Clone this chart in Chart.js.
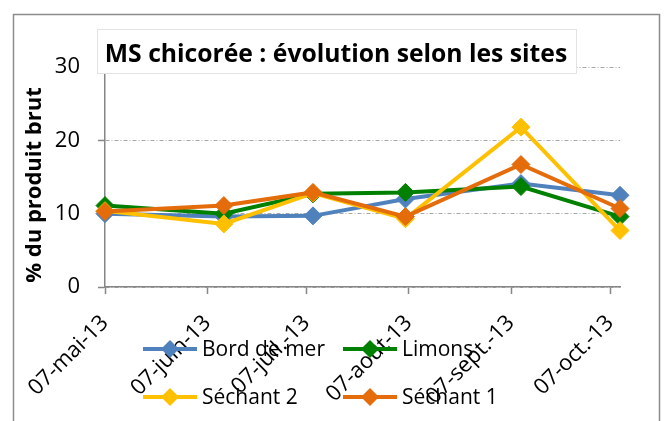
<!DOCTYPE html>
<html>
<head>
<meta charset="utf-8">
<script src="https://cdn.jsdelivr.net/npm/chart.js@4"></script>
<style>
    html, body { margin: 0; padding: 0; background: #fff; }
</style>
</head>
<body>
<canvas id="ms-grafica" width="665" height="421"></canvas>
<script>
const titre = 'MS chicorée : évolution selon les sites';
const titreAxeY = '% du produit brut';

// dates des prélèvements et valeurs (% du produit brut)
const datesMesures = ['2013-05-07', '2013-06-12', '2013-07-09', '2013-08-06', '2013-09-10', '2013-10-10'];
const bordDeMer = [10.0, 9.6, 9.7, 12.0, 14.1, 12.5];
const limons = [11.1, 10.0, 12.7, 12.9, 13.7, 9.6];
const sechant2 = [10.4, 8.6, 12.8, 9.3, 21.8, 7.7];
const sechant1 = [10.3, 11.1, 12.9, 9.6, 16.7, 10.7];

// graduations de l'axe des dates
const datesGraduations = ['2013-05-07', '2013-06-07', '2013-07-07', '2013-08-07', '2013-09-07', '2013-10-07'];
const etiquettesGraduations = ['07-mai-13', '07-juin-13', '07-juil.-13', '07-août-13', '07-sept.-13', '07-oct.-13'];
const graduationsY = [0, 10, 20, 30];

(() => {
    const jour = (d) => (new Date(d) - new Date(datesMesures[0])) / 86400000;
    const joursMesures = datesMesures.map(jour);
    const joursGraduations = datesGraduations.map(jour);

    const serie = (label, valeurs, couleur, ordre) => ({
        label: label,
        data: valeurs.map((v, i) => ({ x: joursMesures[i], y: v })),
        borderColor: couleur,
        backgroundColor: couleur,
        borderWidth: 4,
        pointStyle: 'rectRot',
        pointRadius: 9,
        pointBorderWidth: 1,
        tension: 0,
        clip: false,
        order: ordre
    });

    const decor = {
        id: 'decor',
        beforeDraw(chart) {
            const ctx = chart.ctx;
            ctx.save();
            ctx.fillStyle = '#fff';
            ctx.fillRect(0, 0, chart.width, chart.height);
            ctx.strokeStyle = '#8c8c8c';
            ctx.lineWidth = 1.5;
            ctx.strokeRect(13.5, 14.5, 646, 440);
            ctx.restore();
        },
        afterDraw(chart) {
            const ctx = chart.ctx;
            ctx.save();
            // titre
            ctx.fillStyle = '#fff';
            ctx.fillRect(97, 29, 479, 44);
            ctx.strokeStyle = '#e3e3e3';
            ctx.lineWidth = 1;
            ctx.strokeRect(97.5, 29.5, 479, 44);
            ctx.fillStyle = '#000';
            ctx.font = "bold 24.7px 'Open Sans'";
            ctx.textAlign = 'center';
            ctx.textBaseline = 'alphabetic';
            ctx.fillText(titre, 336, 62);

            // titre de l'axe Y
            ctx.save();
            ctx.translate(35, 185);
            ctx.rotate(-Math.PI / 2);
            ctx.font = "bold 22px 'Open Sans'";
            ctx.textBaseline = 'middle';
            ctx.fillText(titreAxeY, 0, 0);
            ctx.restore();

            // légende
            ctx.font = "21px 'Open Sans'";
            ctx.textAlign = 'left';
            ctx.textBaseline = 'middle';
            chart.data.datasets.forEach((ds, i) => {
                const x = i % 2 === 0 ? 143 : 343;
                const y = i < 2 ? 349 : 397;
                ctx.strokeStyle = ds.borderColor;
                ctx.lineWidth = 4;
                ctx.beginPath();
                ctx.moveTo(x, y);
                ctx.lineTo(x + 54, y);
                ctx.stroke();
                ctx.fillStyle = ds.borderColor;
                ctx.beginPath();
                ctx.moveTo(x + 27, y - 9);
                ctx.lineTo(x + 36, y);
                ctx.lineTo(x + 27, y + 9);
                ctx.lineTo(x + 18, y);
                ctx.closePath();
                ctx.fill();
                ctx.fillStyle = '#000';
                ctx.fillText(ds.label, x + 59, y + 1);
            });
            ctx.restore();
        }
    };

    const ctx = document.getElementById('ms-grafica').getContext('2d');
    new Chart(ctx, {
        type: 'line',
        data: {
            datasets: [
                serie('Bord de mer', bordDeMer, '#4f81bd', 4),
                serie('Limons', limons, '#008000', 3),
                serie('Séchant 2', sechant2, '#ffc000', 2),
                serie('Séchant 1', sechant1, '#e46c0a', 1)
            ]
        },
        plugins: [decor],
        options: {
            responsive: false,
            animation: false,
            events: [],
            layout: { padding: { top: 67, right: 45, bottom: 0, left: 0 } },
            font: { family: "'Open Sans', sans-serif" },
            scales: {
                x: {
                    type: 'linear',
                    min: 0,
                    max: joursMesures[joursMesures.length - 1],
                    afterBuildTicks: (scale) => {
                        scale.ticks = joursGraduations.map(v => ({ value: v }));
                    },
                    afterFit: (scale) => { scale.height = 134; },
                    ticks: {
                        autoSkip: false,
                        minRotation: 45,
                        maxRotation: 45,
                        padding: 16,
                        color: '#000',
                        font: { family: "'Open Sans'", size: 22 },
                        callback: (value) => etiquettesGraduations[joursGraduations.indexOf(value)]
                    },
                    grid: {
                        drawOnChartArea: false,
                        tickLength: 7,
                        tickColor: '#868686',
                        tickWidth: 1.5
                    },
                    border: { color: '#868686', width: 1.5 }
                },
                y: {
                    min: graduationsY[0],
                    max: graduationsY[graduationsY.length - 1],
                    afterFit: (scale) => { scale.width = 105; },
                    ticks: {
                        stepSize: 10,
                        padding: 18,
                        color: '#000',
                        font: { family: "'Open Sans'", size: 22 }
                    },
                    grid: {
                        color: '#a6a6a6',
                        lineWidth: 1,
                        tickLength: 7,
                        tickColor: '#868686',
                        tickWidth: 1.5,
                        tickBorderDash: []
                    },
                    border: { color: '#868686', width: 1.5, dash: [4, 2, 1, 2] }
                }
            },
            plugins: {
                legend: { display: false },
                tooltip: { enabled: false },
                title: { display: false }
            }
        }
    });
})()
</script>
</body>
</html>
